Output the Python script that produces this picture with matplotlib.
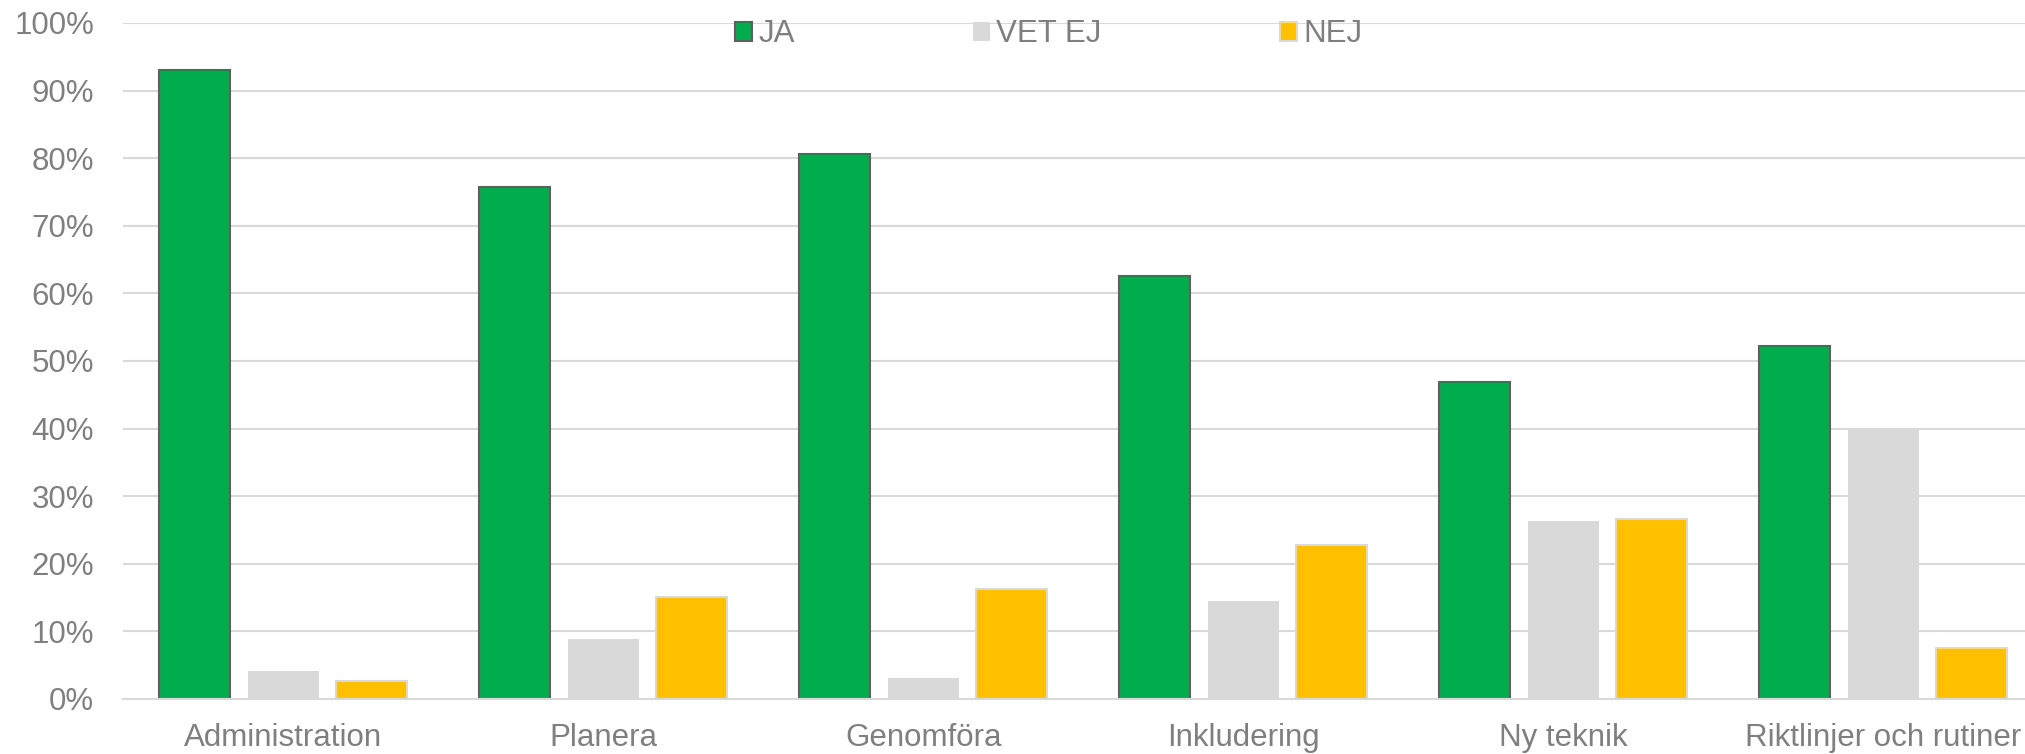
import matplotlib
matplotlib.use("Agg")
import matplotlib.pyplot as plt
import numpy as np
from matplotlib.ticker import FuncFormatter

categories = ["Administration", "Planera", "Genomföra", "Inkludering", "Ny teknik", "Riktlinjer och rutiner"]
series_names = ["JA", "VET EJ", "NEJ"]
ja = [93.1, 75.8, 80.6, 62.6, 46.9, 52.2]
vet_ej = [4.1, 8.9, 3.1, 14.5, 26.4, 40.0]
nej = [2.6, 15.1, 16.2, 22.8, 26.6, 7.6]
y_ticks = [0, 10, 20, 30, 40, 50, 60, 70, 80, 90, 100]

plt.rcParams['font.family'] = ['Liberation Sans', 'DejaVu Sans']
text_color = '#7F7F7F'
grid_color = '#D9D9D9'

fig = plt.figure(figsize=(20.25, 7.54), dpi=100)
ax = fig.add_axes([123.2 / 2025, 1 - 699 / 754, 1920 / 2025, (699 - 23) / 754])

x = np.arange(len(categories))
bw = 0.222
step = 0.277
styles = [
    dict(color='#00AD4E', edgecolor='#5F5F5F', linewidth=1.5),
    dict(color='#D9D9D9', edgecolor='none', linewidth=0),
    dict(color='#FFC000', edgecolor='#D9D9D9', linewidth=1.5),
]
handles = []
for i, (vals, st) in enumerate(zip([ja, vet_ej, nej], styles)):
    b = ax.bar(x + (i - 1) * step, vals, width=bw, label=series_names[i], zorder=3, **st)
    handles.append(b)

ax.set_xlim(-0.5, len(categories) - 0.5)
ax.set_ylim(0, 100)
ax.set_yticks(y_ticks)
ax.yaxis.set_major_formatter(FuncFormatter(lambda v, p: f"{int(v)}%"))
ax.set_xticks(x)
ax.set_xticklabels(categories)
ax.tick_params(axis='y', length=0, pad=21, labelsize=22.5, labelcolor=text_color)
ax.tick_params(axis='x', length=0, pad=17, labelsize=22.5, labelcolor=text_color)
ax.yaxis.grid(True, color=grid_color, linewidth=1.5, zorder=0)
ax.set_axisbelow(True)
for s in ['top', 'left', 'right']:
    ax.spines[s].set_visible(False)
ax.spines['bottom'].set_color(grid_color)
ax.spines['bottom'].set_linewidth(1.5)
ax.spines['bottom'].set_zorder(4)

leg = fig.legend(handles=handles, labels=series_names, loc='center left',
                 bbox_to_anchor=(735 / 2025, 1 - 34.5 / 754), ncol=3, frameon=False,
                 fontsize=22.5, handlelength=0.55, handleheight=0.55,
                 handletextpad=0.2, columnspacing=5.7, borderpad=0, borderaxespad=0)
for t in leg.get_texts():
    t.set_color(text_color)

fig.savefig("out.png", dpi=100, facecolor='white')
